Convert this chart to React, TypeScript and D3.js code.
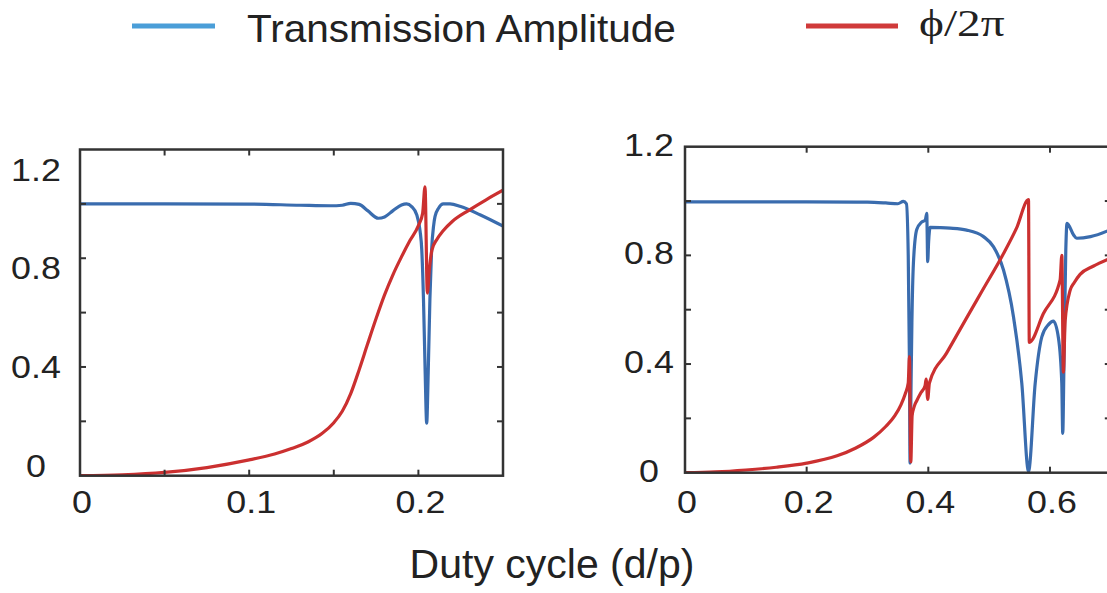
import React from "react";
import * as d3 from "d3";

// ---- Left panel (duty cycle 0 – 0.25) ----
const leftAmpDuty = [0, 0.05, 0.1, 0.13, 0.148, 0.155, 0.16, 0.165, 0.17, 0.1763, 0.18, 0.185, 0.19, 0.193, 0.196, 0.199, 0.201, 0.202, 0.203, 0.204, 0.2049, 0.2058, 0.2068, 0.2078, 0.209, 0.2098, 0.212, 0.2147, 0.2187, 0.225, 0.2364, 0.25];
const leftAmplitude = [1.0, 1.0, 0.999, 0.995, 0.993, 0.995, 1.002, 0.998, 0.975, 0.947, 0.952, 0.975, 0.996, 1.0, 0.99, 0.96, 0.9, 0.83, 0.65, 0.38, 0.193, 0.38, 0.65, 0.83, 0.92, 0.953, 0.985, 1.0, 1.0, 0.99, 0.96, 0.918];

const leftPhaseDuty = [0, 0.025, 0.05, 0.075, 0.1, 0.115, 0.125, 0.135, 0.143, 0.15, 0.155, 0.16, 0.165, 0.17, 0.175, 0.18, 0.185, 0.19, 0.195, 0.2, 0.2025, 0.2039, 0.2053, 0.2065, 0.208, 0.211, 0.2145, 0.22, 0.23, 0.24, 0.25];
const leftPhase = [0, 0.003, 0.012, 0.03, 0.058, 0.08, 0.1, 0.125, 0.155, 0.195, 0.237, 0.302, 0.39, 0.485, 0.578, 0.665, 0.74, 0.805, 0.865, 0.92, 0.965, 1.063, 0.672, 0.76, 0.83, 0.87, 0.9, 0.935, 0.977, 1.015, 1.05];

// ---- Right panel (duty cycle 0 – 0.7) ----
const rightAmpDuty = [0, 0.1, 0.2, 0.3, 0.33, 0.35, 0.359, 0.364, 0.367, 0.369, 0.37, 0.3715, 0.373, 0.3755, 0.381, 0.389, 0.395, 0.3975, 0.398, 0.399, 0.4005, 0.403, 0.42, 0.4358, 0.463, 0.4907, 0.507, 0.5236, 0.54, 0.5537, 0.5647, 0.5757, 0.5866, 0.5975, 0.6056, 0.614, 0.6194, 0.621, 0.623, 0.626, 0.628, 0.6386, 0.644, 0.6667, 0.7];
const rightAmplitude = [0.997, 0.997, 0.997, 0.996, 0.993, 0.99, 0.999, 0.99, 0.8, 0.4, 0.035, 0.3, 0.55, 0.771, 0.895, 0.922, 0.93, 0.955, 0.9, 0.777, 0.85, 0.903, 0.902, 0.9, 0.893, 0.869, 0.832, 0.746, 0.574, 0.329, 0.005, 0.329, 0.5, 0.545, 0.558, 0.495, 0.33, 0.145, 0.4, 0.818, 0.918, 0.876, 0.863, 0.869, 0.895];

const rightPhaseDuty = [0, 0.05, 0.1, 0.15, 0.2, 0.25, 0.28, 0.31, 0.33, 0.345, 0.355, 0.362, 0.367, 0.369, 0.3712, 0.3734, 0.377, 0.381, 0.388, 0.3947, 0.3964, 0.399, 0.4018, 0.43, 0.463, 0.49, 0.5208, 0.545, 0.5647, 0.566, 0.589, 0.6167, 0.6195, 0.622, 0.625, 0.633, 0.64, 0.6495, 0.671, 0.7];
const rightPhase = [0, 0.003, 0.01, 0.02, 0.035, 0.062, 0.09, 0.13, 0.17, 0.21, 0.25, 0.29, 0.33, 0.427, 0.04, 0.21, 0.245, 0.265, 0.295, 0.32, 0.345, 0.27, 0.33, 0.44, 0.57, 0.675, 0.795, 0.9, 1.005, 0.48, 0.585, 0.71, 0.8, 0.37, 0.56, 0.67, 0.7, 0.73, 0.76, 0.79];

// ---- Axis ticks and labels ----
const leftXTicks = [0.05, 0.1, 0.15, 0.2];
const leftXLabels = [0, 0.1, 0.2];
const rightXTicks = [0.2, 0.4, 0.6];
const rightXLabels = [0, 0.2, 0.4, 0.6];
const yTicks = [0.2, 0.4, 0.6, 0.8, 1.0];
const yLabels = [0, 0.4, 0.8, 1.2];

const legendItems = [
  { name: "Transmission Amplitude", color: "#4a9ed8" },
  { name: "\u03D5/2\u03C0", color: "#d03a3a" },
];

const BLUE = "#3a6cae";
const RED = "#cb3030";
const AXIS = "#333";
const TEXT = "#222";
const SANS = "'Liberation Sans', Arial, Helvetica, sans-serif";
const SERIF = "'Liberation Serif', 'Times New Roman', serif";

type PanelProps = {
  id: string;
  xDomain: [number, number];
  xRange: [number, number];
  yRange: [number, number];
  xTicks: number[];
  xLabels: number[];
  yLabelCenters: [number, number];
  yLabelX: number;
  ampX: number[];
  ampY: number[];
  phX: number[];
  phY: number[];
};

function Panel(p: PanelProps) {
  const x = d3.scaleLinear().domain(p.xDomain).range(p.xRange);
  const y = d3.scaleLinear().domain([0, 1.2]).range(p.yRange);
  const yLab = d3.scaleLinear().domain([0, 1.2]).range(p.yLabelCenters);
  const line = d3
    .line<[number, number]>()
    .x((d) => x(d[0]))
    .y((d) => y(d[1]))
    .curve(d3.curveMonotoneX);
  const amp = p.ampX.map((v, i) => [v, p.ampY[i]] as [number, number]);
  const ph = p.phX.map((v, i) => [v, p.phY[i]] as [number, number]);
  const [x0, x1] = p.xRange;
  const [yb, yt] = p.yRange;
  const tk = 6;
  const fmt = (v: number) => (v === 0 ? "0" : d3.format(".1f")(v));
  return (
    <g>
      <defs>
        <clipPath id={p.id}>
          <rect x={x0} y={yt} width={x1 - x0} height={yb - yt} />
        </clipPath>
      </defs>
      <g clipPath={`url(#${p.id})`} fill="none" strokeWidth={3.2} strokeLinejoin="round" strokeLinecap="round">
        <path d={line(amp) ?? ""} stroke={BLUE} />
        <path d={line(ph) ?? ""} stroke={RED} />
      </g>
      <g stroke={AXIS} strokeWidth={2}>
        {p.xTicks.map((t) => (
          <g key={"xt" + t}>
            <line x1={x(t)} x2={x(t)} y1={yb} y2={yb - tk} />
            <line x1={x(t)} x2={x(t)} y1={yt} y2={yt + tk} />
          </g>
        ))}
        {yTicks.map((t) => (
          <g key={"yt" + t}>
            <line x1={x0} x2={x0 + tk} y1={y(t)} y2={y(t)} />
            <line x1={x1} x2={x1 - tk} y1={y(t)} y2={y(t)} />
          </g>
        ))}
      </g>
      <rect x={x0} y={yt} width={x1 - x0} height={yb - yt} fill="none" stroke={AXIS} strokeWidth={2.5} />
      <g fill={TEXT} fontFamily={SANS} fontSize={32} textAnchor="middle">
        {p.xLabels.map((t) => (
          <text key={"xl" + t} transform={`translate(${x(t) + 2},${513}) scale(1.12,1)`}>
            {fmt(t)}
          </text>
        ))}
        {yLabels.map((t) => (
          <text key={"yl" + t} transform={`translate(${p.yLabelX},${yLab(t) + 11.5}) scale(1.12,1)`}>
            {fmt(t)}
          </text>
        ))}
      </g>
    </g>
  );
}

export default function App() {
  return (
    <svg
      width={1107}
      height={593}
      viewBox="0 0 1107 593"
      style={{ position: "absolute", left: 0, top: 0, background: "#fff" }}
    >
      <rect width={1107} height={593} fill="#fff" />
      {/* legend */}
      <line x1={132} x2={215} y1={26} y2={26} stroke={legendItems[0].color} strokeWidth={5} />
      <text transform="translate(247,42) scale(1.04,1)" fontFamily={SANS} fontSize={39} fill={TEXT}>
        {legendItems[0].name}
      </text>
      <line x1={806} x2={898} y1={26} y2={26} stroke={legendItems[1].color} strokeWidth={5} />
      <text transform="translate(919,36) scale(1.28,1)" fontFamily={SERIF} fontSize={37} fill={TEXT}>
        {legendItems[1].name}
      </text>

      <Panel
        id="clipL"
        xDomain={[0, 0.25]}
        xRange={[80, 503]}
        yRange={[475.7, 149.5]}
        xTicks={leftXTicks}
        xLabels={leftXLabels}
        yLabelCenters={[465, 169]}
        yLabelX={36}
        ampX={leftAmpDuty}
        ampY={leftAmplitude}
        phX={leftPhaseDuty}
        phY={leftPhase}
      />
      <Panel
        id="clipR"
        xDomain={[0, 0.7]}
        xRange={[685, 1110.8]}
        yRange={[472.7, 146.7]}
        xTicks={rightXTicks}
        xLabels={rightXLabels}
        yLabelCenters={[470, 144]}
        yLabelX={649}
        ampX={rightAmpDuty}
        ampY={rightAmplitude}
        phX={rightPhaseDuty}
        phY={rightPhase}
      />

      <text x={552} y={578} textAnchor="middle" fontFamily={SANS} fontSize={41} fill={TEXT}>
        Duty cycle (d/p)
      </text>
    </svg>
  );
}
